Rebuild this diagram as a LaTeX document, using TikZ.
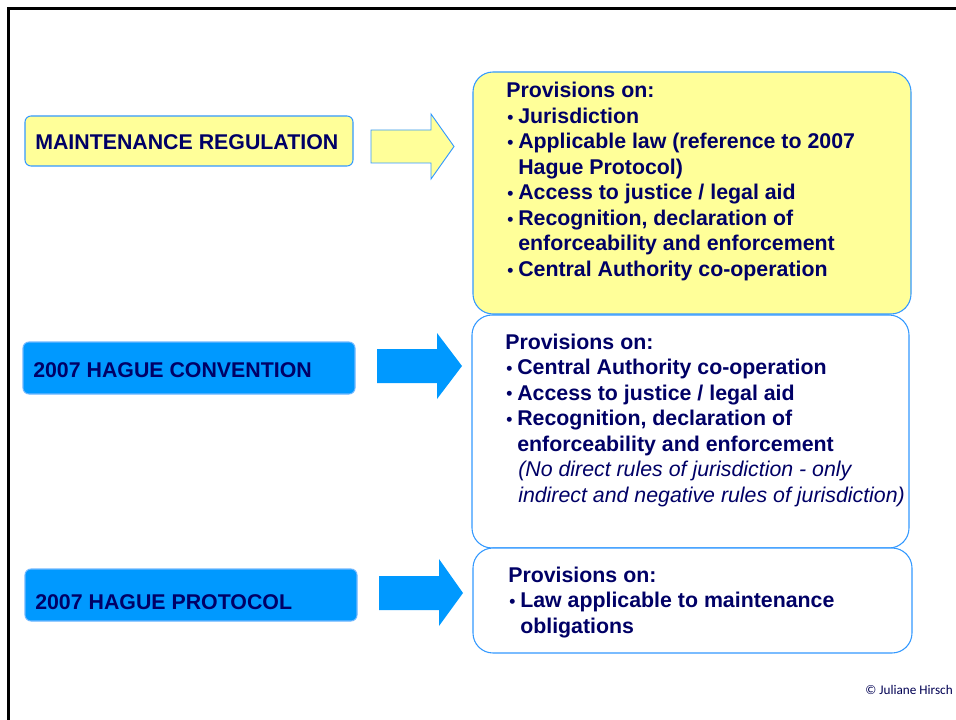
\documentclass[tikz,border=0pt]{standalone}
\usepackage{fontspec}
\setmainfont{Liberation Sans}
\newfontfamily\copyfont{Carlito}
\definecolor{navy}{HTML}{000066}
\definecolor{paleyellow}{HTML}{FFFF99}
\definecolor{skyblue}{HTML}{0099FF}
\definecolor{edgeblue}{HTML}{3399FF}
\tikzset{
  txt/.style={anchor=base west, inner sep=0pt, text=navy, font=\bfseries\fontsize{16}{19}\selectfont},
  itxt/.style={anchor=base west, inner sep=0pt, text=navy, font=\itshape\fontsize{16}{19}\selectfont},
  smallbox/.style={draw=edgeblue, line width=0.8pt, rounded corners=4.5pt},
  bigbox/.style={draw=edgeblue, line width=0.8pt, rounded corners=15pt},
}
\newcommand{\bul}{\makebox[8.25pt][l]{\raisebox{0.3pt}{\fontsize{13}{13}\selectfont •}}}
\begin{document}
\begin{tikzpicture}[x=0.75pt,y=-0.75pt]
\useasboundingbox (0,0) rectangle (956,720);
% frame
\draw[line width=2pt, black] (8.5,720) -- (8.5,8.5) -- (956,8.5);

% left boxes
\draw[smallbox, fill=paleyellow] (25,116) rectangle (353,166);
\node[txt] (t1) at (35,150) {MAINTENANCE REGULATION};
\draw[smallbox, draw=edgeblue!70, fill=skyblue] (23,342) rectangle (355,394);
\node[txt] (t2) at (33,377.5) {2007 HAGUE CONVENTION};
\draw[smallbox, draw=edgeblue!70, fill=skyblue] (25,569) rectangle (357,621);
\node[txt] (t3) at (35,609) {2007 HAGUE PROTOCOL};

% arrows
\draw[fill=paleyellow, draw=edgeblue, line width=0.7pt]
  (371,130) -- (431,130) -- (431,114) -- (454,146.5) -- (431,179) -- (431,163) -- (371,163) -- cycle;
\fill[skyblue]
  (377,349) -- (437,349) -- (437,333) -- (462,366) -- (437,399) -- (437,383) -- (377,383) -- cycle;
\fill[skyblue]
  (379,576) -- (439,576) -- (439,559) -- (463,593) -- (439,626) -- (439,610) -- (379,610) -- cycle;

% right boxes
\draw[bigbox, fill=paleyellow] (473,72) rectangle (911,314);
\draw[bigbox, fill=white] (472,315) rectangle (909,548);
\draw[bigbox, fill=white] (473,548) rectangle (912,653);

% box 1 text
\node[txt] (a0) at (506,98) {Provisions on:};
\node[txt] (a1) at (507,123.5) {\bul Jurisdiction};
\node[txt] (a2) at (507,149) {\bul Applicable law (reference to 2007};
\node[txt] (a3) at (518,174.5) {Hague Protocol)};
\node[txt] (a4) at (507,200) {\bul Access to justice / legal aid};
\node[txt] (a5) at (507,225.5) {\bul Recognition, declaration of};
\node[txt] (a6) at (518,251) {enforceability and enforcement};
\node[txt] (a7) at (507,276.5) {\bul Central Authority co-operation};

% box 2 text
\node[txt] (b0) at (505,349) {Provisions on:};
\node[txt] (b1) at (506,374.5) {\bul Central Authority co-operation};
\node[txt] (b2) at (506,400) {\bul Access to justice / legal aid};
\node[txt] (b3) at (506,425.5) {\bul Recognition, declaration of};
\node[txt] (b4) at (517,451) {enforceability and enforcement};
\node[itxt] (b5) at (518,476.5) {(No direct rules of jurisdiction - only};
\node[itxt] (b6) at (518,502) {indirect and negative rules of jurisdiction)};

% box 3 text
\node[txt] (c0) at (508,582) {Provisions on:};
\node[txt] (c1) at (509,607.5) {\bul Law applicable to maintenance};
\node[txt] (c2) at (520,633) {obligations};

% copyright
\node[anchor=base east, inner sep=0pt, text=navy!80!black, font=\copyfont\fontsize{9.9}{11}\selectfont] (cr) at (953,694) {© Juliane Hirsch};
\end{tikzpicture}
\end{document}
